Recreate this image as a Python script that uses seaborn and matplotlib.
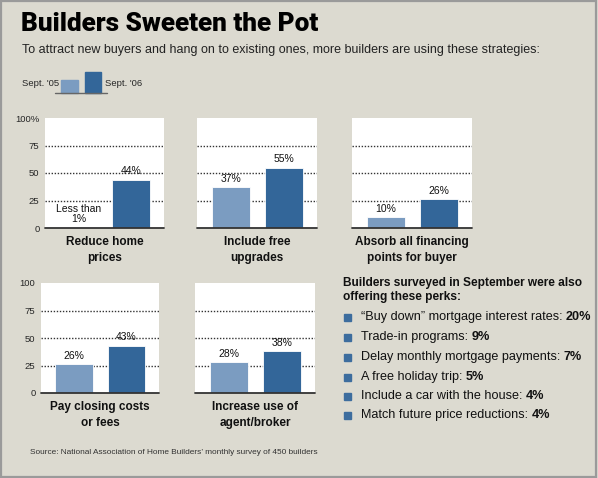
import matplotlib
matplotlib.use("Agg")
import matplotlib.pyplot as plt
import pandas as pd
import seaborn as sns
from matplotlib import font_manager
from matplotlib.patches import Rectangle

W, H = 598, 478

# dati
strategie = ["Reduce home\nprices", "Include free\nupgrades",
             "Absorb all financing\npoints for buyer",
             "Pay closing costs\nor fees", "Increase use of\nagent/broker"]
serie = ["Sept. '05", "Sept. '06"]
sept_05 = [0.5, 37, 10, 26, 28]
sept_06 = [44, 55, 26, 43, 38]
etichette_05 = ["Less than\n1%", "37%", "10%", "26%", "28%"]
etichette_06 = ["44%", "55%", "26%", "43%", "38%"]
perks = ["\u201cBuy down\u201d mortgage interest rates: ", "Trade-in programs: ",
         "Delay monthly mortgage payments: ", "A free holiday trip: ",
         "Include a car with the house: ", "Match future price reductions: "]
perk_valori = ["20%", "9%", "7%", "5%", "4%", "4%"]
y_ticks = [0, 25, 50, 75, 100]
y_labels_sus = ["0", "25", "50", "75", "100%"]
y_labels_jos = ["0", "25", "50", "75", "100"]

BG = "#dcdad0"
C05 = "#7b9cc1"
C06 = "#336699"


def font_ok(name):
    try:
        font_manager.findfont(font_manager.FontProperties(family=name),
                              fallback_to_default=False)
        return True
    except Exception:
        return False


BODY = "Liberation Sans" if font_ok("Liberation Sans") else "DejaVu Sans"
NARROW = "Liberation Sans Narrow" if font_ok("Liberation Sans Narrow") else BODY
TITLE = "Roboto" if font_ok("Roboto") else "DejaVu Sans"

sns.set_theme(style="white")
plt.rcParams["font.family"] = [BODY, "DejaVu Sans"]

fig = plt.figure(figsize=(W / 100, H / 100), dpi=100, facecolor=BG)


def fx(x):
    return x / W


def fy(y):
    return 1 - y / H


def txt(x, y, s, **kw):
    return fig.text(fx(x), fy(y), s, **kw)


# cadre
fig.patches.append(Rectangle((0.002, 0.003), 0.995, 0.994, transform=fig.transFigure,
                             fill=False, edgecolor="#9a9a9a", lw=1.6))

txt(21, 24, "Builders Sweeten the Pot", family=TITLE, fontweight="black",
    fontsize=18.8, va="center", color="black")
txt(22, 50, "To attract new buyers and hang on to existing ones, more builders are using these strategies:",
    fontsize=9, va="center", color="#222222")

# legenda
txt(22, 83, serie[0], family=NARROW, fontsize=6.8, va="center")
txt(105, 83, serie[1], family=NARROW, fontsize=6.8, va="center")
fig.patches.append(Rectangle((fx(61), fy(93)), (78 - 61) / W, 13 / H,
                             transform=fig.transFigure, color=C05))
fig.patches.append(Rectangle((fx(85), fy(93)), (101 - 85) / W, 21 / H,
                             transform=fig.transFigure, color=C06))
fig.lines.append(plt.Line2D([fx(55), fx(107)], [fy(93), fy(93)],
                            transform=fig.transFigure, color="#666666", lw=1))

# pozitii panouri (pixeli)
panouri = [(45, 118, 164, 228), (197, 118, 317, 228), (352, 118, 472, 228),
           (41, 283, 159, 393), (195, 283, 315, 393)]

for i, (x0, y0, x1, y1) in enumerate(panouri):
    ax = fig.add_axes([fx(x0), fy(y1), (x1 - x0) / W, (y1 - y0) / H])
    ax.set_facecolor("white")
    df = pd.DataFrame({"serie": serie, "valoare": [sept_05[i], sept_06[i]]})
    for g in [25, 50, 75]:
        ax.axhline(g, color="#333333", lw=1, ls=(0, (1, 1.2)), zorder=0)
    sns.barplot(data=df, x="serie", y="valoare", hue="serie",
                palette=[C05, C06], saturation=1, width=0.71, legend=False, ax=ax,
                edgecolor="white", linewidth=0.6, zorder=2)
    ax.set_xlim(-0.63, 1.62)
    ax.set_ylim(0, 100)
    ax.axhline(0, color="#333333", lw=1.3, zorder=3, clip_on=False)
    for s in ax.spines.values():
        s.set_visible(False)
    ax.set_xlabel("")
    ax.set_ylabel("")
    ax.set_xticks([])
    ax.set_yticks(y_ticks)
    if i == 0 or i == 3:
        ax.set_yticklabels(y_labels_sus if i == 0 else y_labels_jos,
                           family=NARROW, fontsize=6.8)
    else:
        ax.set_yticklabels([])
    ax.tick_params(axis="y", length=0, pad=4)

    for j, (v, lab) in enumerate([(sept_05[i], etichette_05[i]),
                                  (sept_06[i], etichette_06[i])]):
        ax.text(j, v + 3, lab, ha="center", va="bottom", family=NARROW,
                fontsize=7.5, linespacing=1.0, color="#111111")

    cx = (x0 + x1) / 2
    txt(cx, y1 + 22, strategie[i], ha="center", va="center", fontsize=8.5,
        fontweight="bold", linespacing=1.35, color="#111111")

# lista perks
txt(343, 290, "Builders surveyed in September were also\noffering these perks:",
    fontsize=8.6, fontweight="bold", va="center", linespacing=1.3, color="#111111")

fig.canvas.draw()
rend = fig.canvas.get_renderer()
ys = [317, 337, 357, 377, 396, 415]
for s, v, y in zip(perks, perk_valori, ys):
    fig.patches.append(Rectangle((fx(344), fy(y + 3.5)), 7 / W, 7 / H,
                                 transform=fig.transFigure, color="#3d6d9e"))
    t = txt(361, y, s, fontsize=9.1, va="center", color="#111111")
    bb = t.get_window_extent(rend)
    fig.text(bb.x1 / W, fy(y), v, fontsize=9.1, fontweight="bold", va="center",
             color="#111111")

txt(30, 453, "Source: National Association of Home Builders\u2019 monthly survey of 450 builders",
    family=NARROW, fontsize=5.95, va="center", color="#333333")

fig.savefig("out.png", dpi=100, facecolor=BG)
